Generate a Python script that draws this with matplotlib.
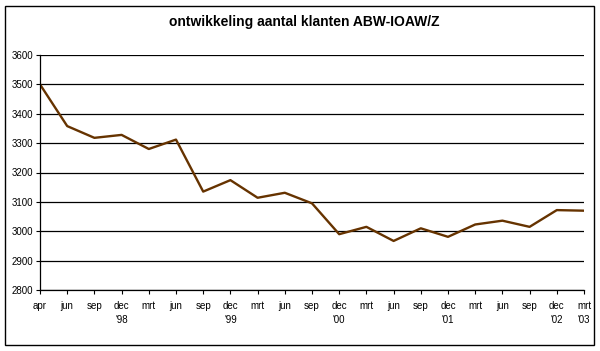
import matplotlib.pyplot as plt
from matplotlib.patches import Rectangle

# data
months = ['apr', 'jun', 'sep', "dec\n'98", 'mrt', 'jun', 'sep', "dec\n'99", 'mrt', 'jun', 'sep',
          "dec\n'00", 'mrt', 'jun', 'sep', "dec\n'01", 'mrt', 'jun', 'sep', "dec\n'02", "mrt\n'03"]
clients = [3500, 3358, 3318, 3328, 3280, 3312, 3135, 3174, 3114, 3131, 3095,
           2990, 3015, 2967, 3010, 2981, 3023, 3036, 3015, 3072, 3070]
y_ticks = [2800, 2900, 3000, 3100, 3200, 3300, 3400, 3500, 3600]

plt.rcParams['font.family'] = ['Liberation Sans', 'DejaVu Sans']

fig = plt.figure(figsize=(6, 3.51), dpi=100)
ax = fig.add_axes([40 / 600, 1 - 290 / 351, 544 / 600, 235 / 351])

ax.plot(range(len(clients)), clients, color='#663300', lw=1.7)

ax.set_xlim(0, len(clients) - 1)
ax.set_ylim(2800, 3600)
ax.set_yticks(y_ticks)
ax.set_xticks(range(len(months)))
ax.set_xticklabels(months, fontsize=7, linespacing=1.5)
ax.tick_params(axis='y', labelsize=7, length=3, width=0.8, pad=2)
ax.tick_params(axis='x', length=3, width=0.8, pad=5)

ax.yaxis.grid(True, color='black', lw=0.9)
ax.set_axisbelow(True)
for s in ['top', 'right']:
    ax.spines[s].set_visible(False)
for s in ['left', 'bottom']:
    ax.spines[s].set_linewidth(0.9)

fig.text(304 / 600, 1 - 22 / 351, 'ontwikkeling aantal klanten ABW-IOAW/Z',
         ha='center', va='center', fontsize=10, fontweight='bold')

# outer frame
fig.patches.append(Rectangle((5 / 600, 6 / 351), 589 / 600, 339 / 351, transform=fig.transFigure,
                             fill=False, edgecolor='black', lw=1))

fig.savefig('out.png', dpi=100)
